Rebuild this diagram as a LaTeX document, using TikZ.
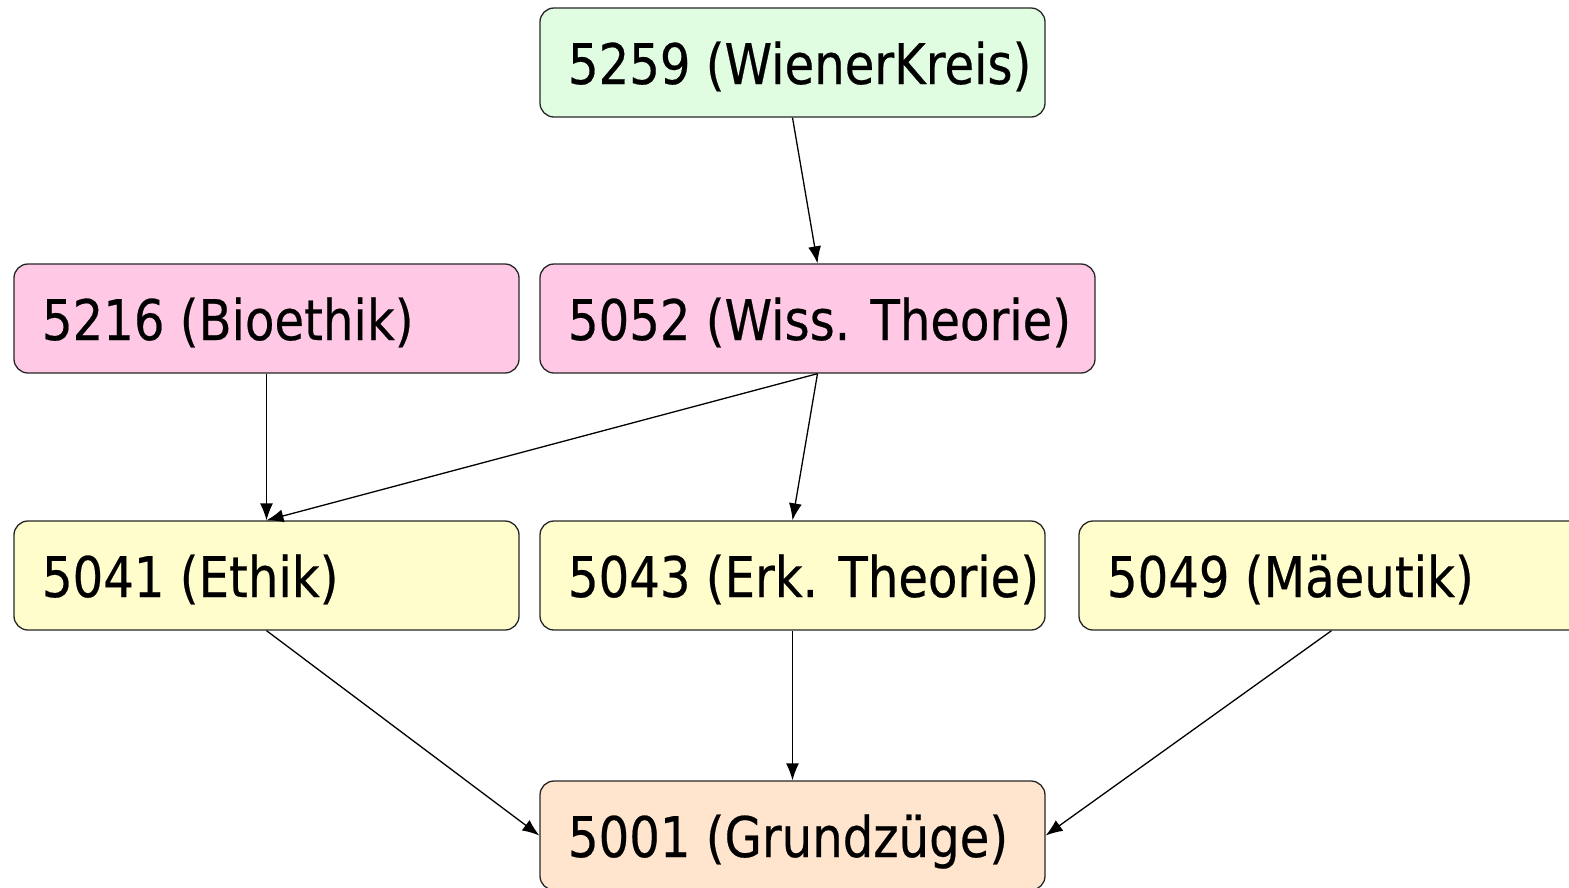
\documentclass[tikz,border=0pt]{standalone}
\usepackage{fontspec}
\setmainfont[FakeStretch=0.86,FakeBold=0.4]{DejaVu Sans}
\usetikzlibrary{arrows.meta}
\definecolor{cgreen}{HTML}{E1FDE1}
\definecolor{cpink}{HTML}{FFC9E6}
\definecolor{cyellow}{HTML}{FFFDCC}
\definecolor{cpeach}{HTML}{FFE5CD}
\newcommand{\lbl}[2]{\makebox[#1][l]{#2}}
\begin{document}
\begin{tikzpicture}[x=1pt,y=-1pt,
  box/.style={draw=black!85, line width=1.3pt, rounded corners=14pt, inner xsep=28pt, inner ysep=0pt,
    text height=43pt, text depth=0pt,
    minimum height=109pt, font=\fontsize{56}{60}\selectfont},
  arr/.style={draw=black, line width=1.3pt, -{Latex[length=17pt,width=13pt]}}]
\useasboundingbox (0,0) rectangle (1569,887);
\node[box, fill=cgreen] (n5259) at (792.5,62.5) {\lbl{449pt}{5259 (WienerKreis)}};
\node[box, fill=cpink] (n5052) at (817.5,318.5) {\lbl{499pt}{5052 (Wiss. Theorie)}};
\node[box, fill=cpink] (n5216) at (266.5,318.5) {\lbl{449pt}{5216 (Bioethik)}};
\node[box, fill=cyellow] (n5041) at (266.5,575.5) {\lbl{449pt}{5041 (Ethik)}};
\node[box, fill=cyellow] (n5043) at (792.5,575.5) {\lbl{449pt}{5043 (Erk. Theorie)}};
\node[box, fill=cyellow] (n5049) at (1331.5,575.5) {\lbl{449pt}{5049 (Mäeutik)}};
\node[box, fill=cpeach] (n5001) at (792.5,835.5) {\lbl{449pt}{5001 (Grundzüge)}};
\draw[arr] (n5259.south) -- (n5052.north);
\draw[arr] (n5216.south) -- (n5041.north);
\draw[arr] (n5052.south) -- (n5041.north);
\draw[arr] (n5052.south) -- (n5043.north);
\draw[arr] (n5041.south) -- (n5001.west);
\draw[arr] (n5043.south) -- (n5001.north);
\draw[arr] (n5049.south) -- (n5001.east);
\end{tikzpicture}
\end{document}
